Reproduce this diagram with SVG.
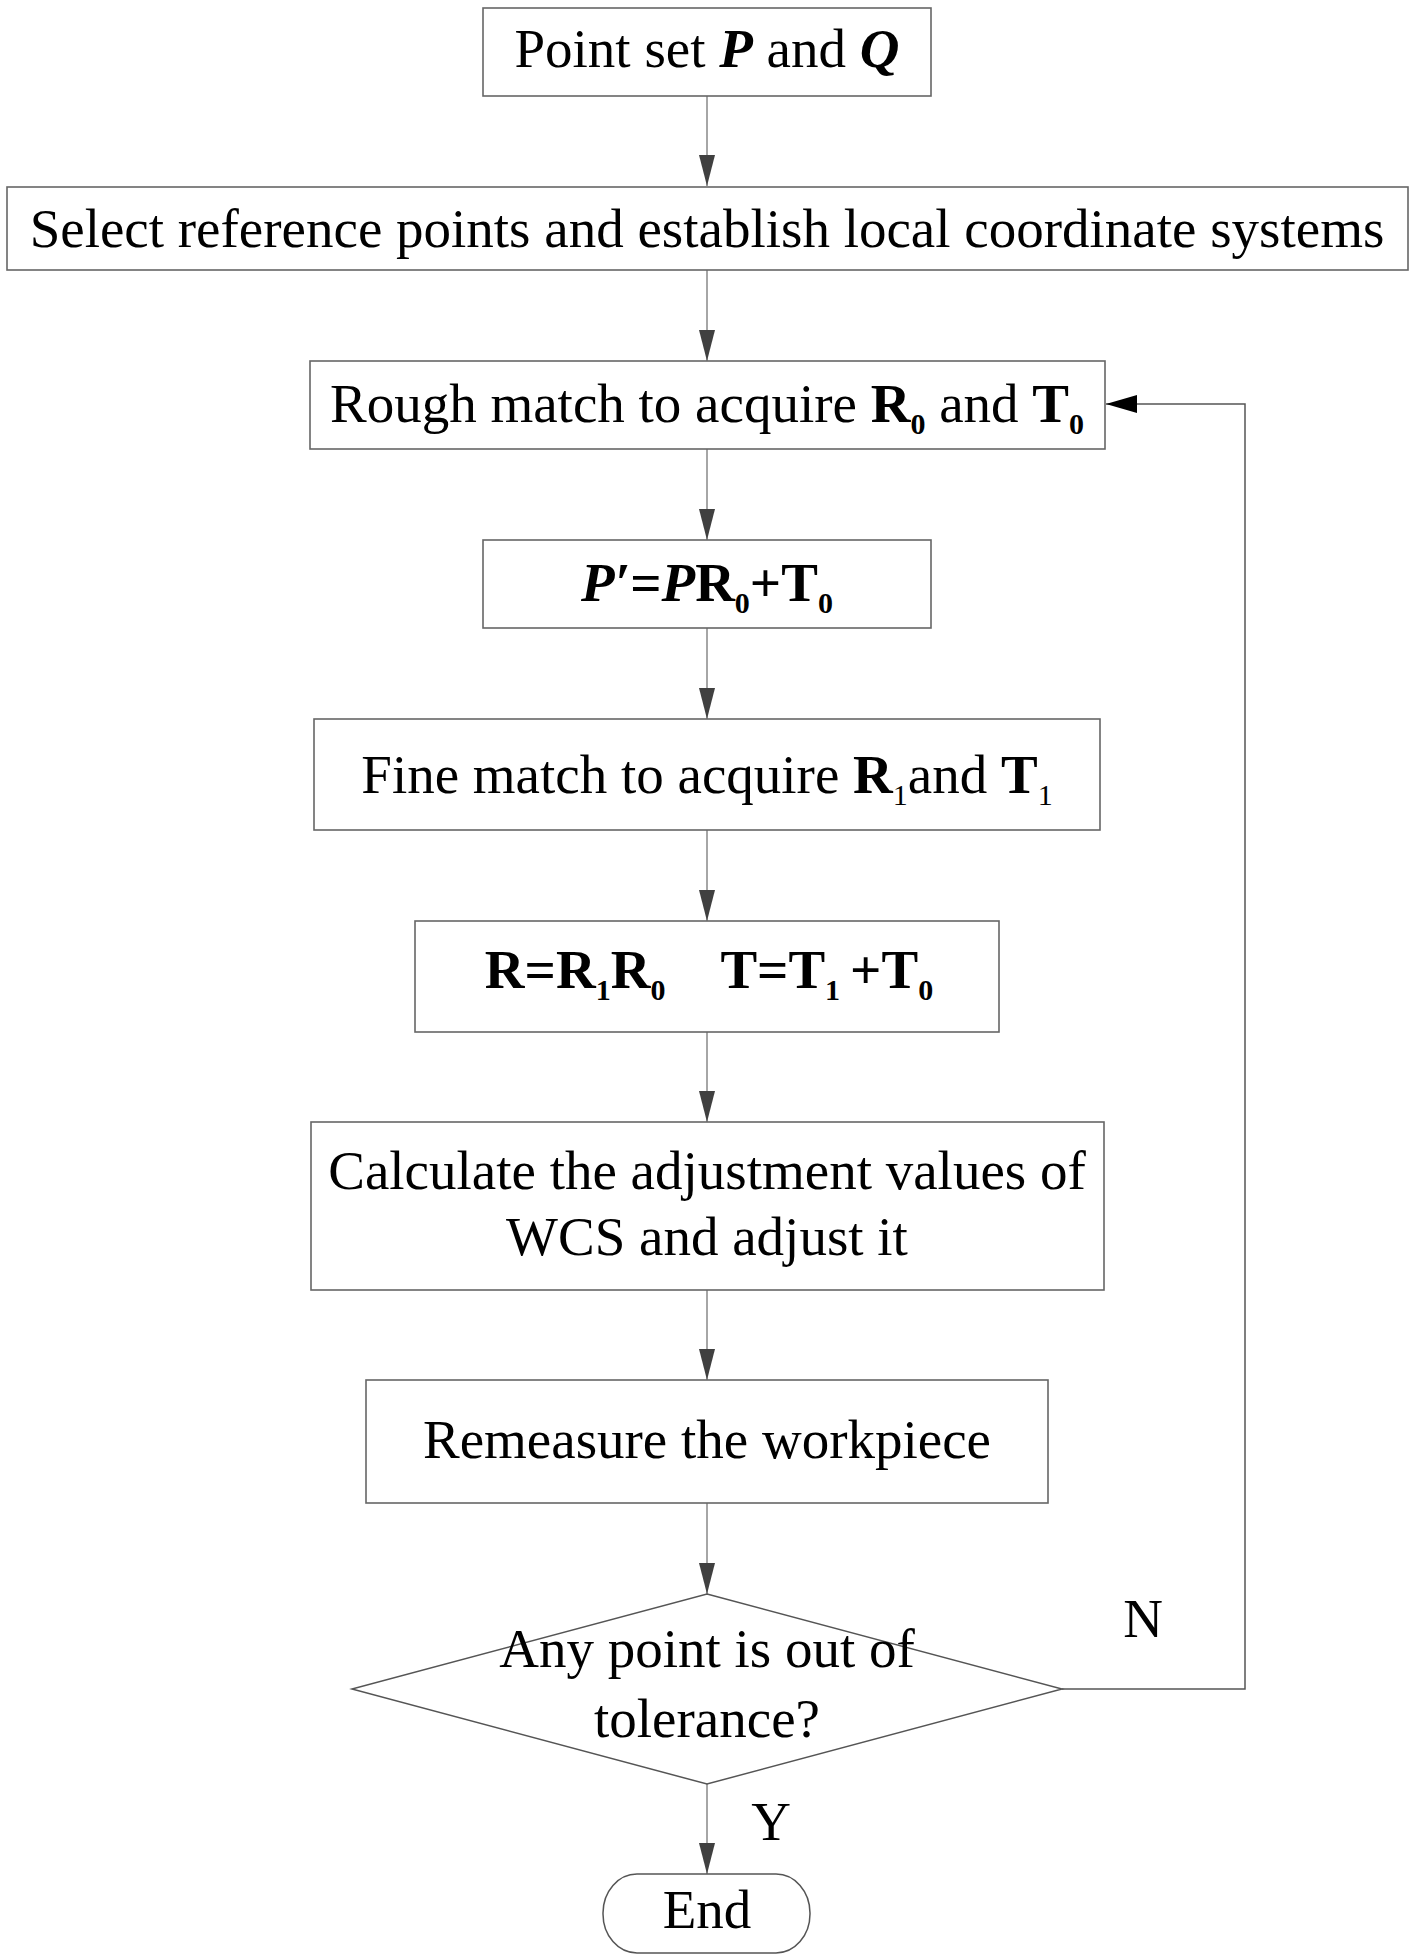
<svg xmlns="http://www.w3.org/2000/svg" width="1414" height="1958" viewBox="0 0 1414 1958">
<style>
.box{fill:#fff;stroke:#666;stroke-width:1.6}
.t{font-family:"Liberation Serif","Times New Roman",serif;font-size:55px;fill:#000;text-anchor:middle}
.b{font-weight:bold}
.bi{font-weight:bold;font-style:italic}
.sub{font-size:30px}
.c{fill:none;stroke:#888;stroke-width:1.5}
.loop{fill:none;stroke:#555;stroke-width:1.5}
</style>
<defs>
<marker id="ah" markerUnits="userSpaceOnUse" markerWidth="32" markerHeight="16" refX="31" refY="8" orient="auto">
<path d="M0,0 L31,8 L0,16 z" fill="#404040"/>
</marker>
<marker id="ahk" markerUnits="userSpaceOnUse" markerWidth="32" markerHeight="18" refX="31" refY="9" orient="auto">
<path d="M0,0 L31,9 L0,18 z" fill="#000"/>
</marker>
</defs>
<rect width="1414" height="1958" fill="#fff"/>
<g id="connectors">
<line class="c" x1="707" y1="95" x2="707" y2="186" marker-end="url(#ah)"/>
<line class="c" x1="707" y1="269" x2="707" y2="361" marker-end="url(#ah)"/>
<line class="c" x1="707" y1="449" x2="707" y2="540" marker-end="url(#ah)"/>
<line class="c" x1="707" y1="628" x2="707" y2="719" marker-end="url(#ah)"/>
<line class="c" x1="707" y1="830" x2="707" y2="921" marker-end="url(#ah)"/>
<line class="c" x1="707" y1="1032" x2="707" y2="1122" marker-end="url(#ah)"/>
<line class="c" x1="707" y1="1290" x2="707" y2="1380" marker-end="url(#ah)"/>
<line class="c" x1="707" y1="1503" x2="707" y2="1594" marker-end="url(#ah)"/>
<line class="c" x1="707" y1="1784" x2="707" y2="1874" marker-end="url(#ah)"/>
<polyline class="loop" points="1062,1689 1245,1689 1245,404 1106,404" marker-end="url(#ahk)"/>
<text class="t" x="1143" y="1637">N</text>
<text class="t" x="771" y="1840">Y</text>
</g>
<g id="n1">
<rect class="box" x="483" y="8" width="448" height="88"/>
<text class="t" x="707" y="67">Point set <tspan class="bi">P</tspan> and <tspan class="bi">Q</tspan></text>
</g>
<g id="n2">
<rect class="box" x="7" y="187" width="1401" height="83"/>
<text class="t" x="707" y="247">Select reference points and establish local coordinate systems</text>
</g>
<g id="n3">
<rect class="box" x="310" y="361" width="795" height="88"/>
<text class="t" x="707" y="422">Rough match to acquire <tspan class="b">R</tspan><tspan class="b sub" dy="12">0</tspan><tspan dy="-12"> and </tspan><tspan class="b">T</tspan><tspan class="b sub" dy="12">0</tspan></text>
</g>
<g id="n4">
<rect class="box" x="483" y="540" width="448" height="88"/>
<text class="t b" x="707" y="601"><tspan class="bi">P′</tspan>=<tspan class="bi">P</tspan>R<tspan class="sub" dy="12">0</tspan><tspan dy="-12">+T</tspan><tspan class="sub" dy="12">0</tspan></text>
</g>
<g id="n5">
<rect class="box" x="314" y="719" width="786" height="111"/>
<text class="t" x="707" y="793">Fine match to acquire  <tspan class="b">R</tspan><tspan class="sub" dy="12">1</tspan><tspan dy="-12">and </tspan><tspan class="b">T</tspan><tspan class="sub" dy="12">1</tspan></text>
</g>
<g id="n6">
<rect class="box" x="415" y="921" width="584" height="111"/>
<text class="t b" x="709" y="988">R=R<tspan class="sub" dy="12">1</tspan><tspan dy="-12">R</tspan><tspan class="sub" dy="12">0</tspan><tspan dy="-12" dx="55">T=T</tspan><tspan class="sub" dy="12">1</tspan><tspan dy="-12" dx="10">+T</tspan><tspan class="sub" dy="12">0</tspan></text>
</g>
<g id="n7">
<rect class="box" x="311" y="1122" width="793" height="168"/>
<text class="t" x="707" y="1189">Calculate the adjustment values of</text>
<text class="t" x="707" y="1255">WCS and adjust it</text>
</g>
<g id="n8">
<rect class="box" x="366" y="1380" width="682" height="123"/>
<text class="t" x="707" y="1458">Remeasure the workpiece</text>
</g>
<g id="n9">
<polygon points="707,1594 352,1689 1062,1689 707,1784" fill="#fff" stroke="none"/>
<polygon points="707,1594 1062,1689 707,1784 352,1689" fill="none" stroke="#555" stroke-width="1.5"/>
<text class="t" x="707" y="1667">Any point is out of</text>
<text class="t" x="707" y="1737">tolerance?</text>
</g>
<g id="n10">
<rect x="603" y="1874" width="207" height="79" rx="34" ry="39" fill="#fff" stroke="#555" stroke-width="1.5"/>
<text class="t" x="707" y="1928">End</text>
</g>
</svg>
